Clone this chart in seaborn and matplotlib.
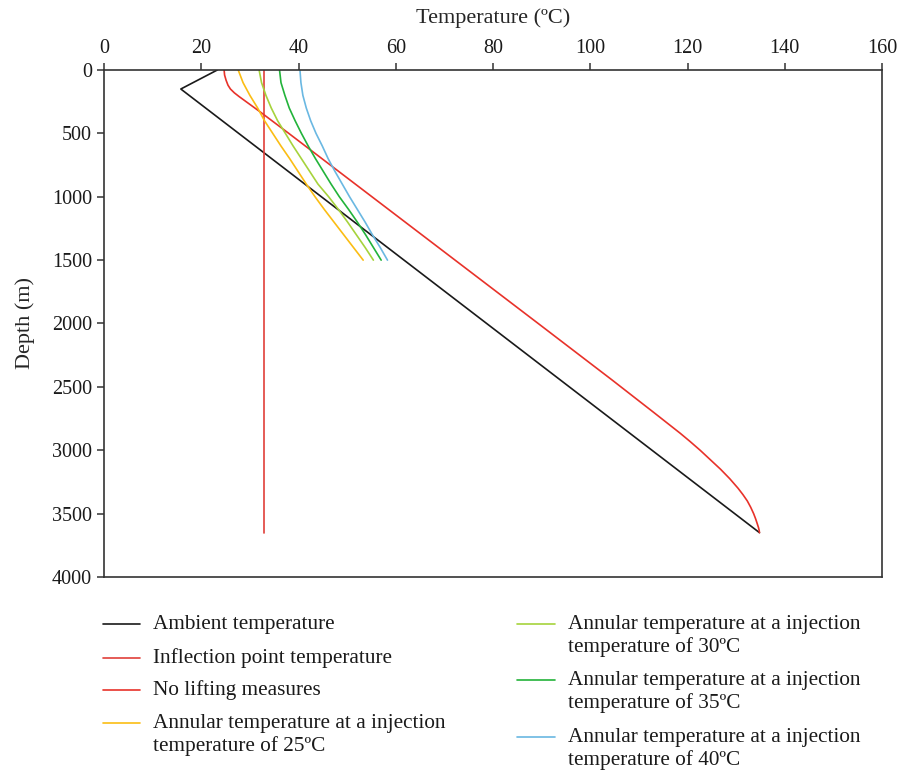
import matplotlib
matplotlib.use("Agg")
import matplotlib.pyplot as plt
from matplotlib.lines import Line2D
import seaborn as sns
import pandas as pd

# --- data ---
ambient_depth = [0, 150, 3650]
ambient_temp = [23.3, 15.8, 134.8]

inflection_depth = [0, 3650]
inflection_temp = [32.9, 32.9]

nolift_depth = [0, 40, 80, 120, 150, 180, 210, 330, 500, 1000, 1500, 2000, 2446, 2700, 2866, 2930,
                3000, 3075, 3150, 3225, 3300, 3350, 3400, 3450, 3500, 3540, 3580, 3610, 3635, 3650]
nolift_temp = [24.7, 24.8, 25.1, 25.5, 26.0, 26.8, 27.8, 32.1, 38.0, 55.1, 72.2, 89.3, 104.5, 113.0, 118.5, 120.5,
               122.6, 124.7, 126.8, 128.7, 130.4, 131.4, 132.3, 133.0, 133.6, 134.0, 134.35, 134.6, 134.75, 134.8]

annular_depth = [0, 100, 200, 300, 400, 500, 600, 700, 800, 900, 1000, 1100, 1200, 1300, 1400, 1500]
annular_25 = [27.6, 28.6, 30.0, 31.6, 33.0, 34.7, 36.4, 38.2, 39.9, 41.6, 43.4, 45.3, 47.3, 49.3, 51.3, 53.3]
annular_30 = [31.9, 32.4, 33.3, 34.4, 35.7, 37.3, 38.9, 40.6, 42.3, 44.0, 46.2, 48.2, 50.1, 51.9, 53.7, 55.4]
annular_35 = [36.1, 36.4, 37.2, 38.1, 39.3, 40.6, 42.0, 43.5, 45.1, 46.7, 48.4, 50.3, 52.1, 53.8, 55.4, 57.0]
annular_40 = [40.3, 40.5, 40.9, 41.6, 42.5, 43.6, 44.9, 46.1, 47.5, 49.0, 50.5, 52.1, 53.7, 55.2, 56.8, 58.3]

x_ticks = [0, 20, 40, 60, 80, 100, 120, 140, 160]
y_ticks = [0, 500, 1000, 1500, 2000, 2500, 3000, 3500, 4000]

series = [
    ("Ambient temperature", ambient_temp, ambient_depth, "#1a1a1a"),
    ("Inflection point temperature", inflection_temp, inflection_depth, "#e0403a"),
    ("No lifting measures", nolift_temp, nolift_depth, "#e8322a"),
    ("Annular temperature at a injection\ntemperature of 25ºC", annular_25, annular_depth, "#fbbd14"),
    ("Annular temperature at a injection\ntemperature of 30ºC", annular_30, annular_depth, "#a6d33c"),
    ("Annular temperature at a injection\ntemperature of 35ºC", annular_35, annular_depth, "#22b33a"),
    ("Annular temperature at a injection\ntemperature of 40ºC", annular_40, annular_depth, "#6ab8e2"),
]

sns.set_theme(style="ticks")
plt.rcParams["font.family"] = ["Liberation Serif", "DejaVu Serif"]
plt.rcParams["axes.edgecolor"] = "#333333"
plt.rcParams["axes.linewidth"] = 1.2

W, H = 900, 778
fig = plt.figure(figsize=(W / 100, H / 100), dpi=100)
ax = fig.add_axes([104 / W, 1 - 577 / H, 778 / W, 507 / H])

for label, temps, depths, color in series:
    df = pd.DataFrame({"temp": temps, "depth": depths})
    sns.lineplot(data=df, x="temp", y="depth", orient="y", sort=False,
                 color=color, linewidth=1.2, ax=ax, legend=False)

ax.set_xlim(0, 160)
ax.set_ylim(4000, 0)
ax.set_xticks(x_ticks)
ax.set_yticks(y_ticks)
ax.xaxis.tick_top()
ax.xaxis.set_label_position("top")
ax.tick_params(axis="both", direction="out", length=5, width=1.1, labelsize=14.5,
               color="#333333", labelcolor="#1a1a1a")
ax.set_xlabel("Temperature (ºC)", fontsize=16)
ax.set_ylabel("Depth (m)", fontsize=16)
ax.xaxis.set_label_coords(0.5, 1.093)
ax.yaxis.set_label_coords(-0.089, 0.5)

# legend laid out by hand: handle sits on the first line of each label
# (column x of handle start, handle end, text start; row y of first line, px)
legend_cols = [(103, 140, 153, [624, 658, 690, 723]),
               (517, 555, 568, [624, 680, 737])]
line_gap = 24
i = 0
for x0, x1, xt, rows in legend_cols:
    for y in rows:
        label, _, _, color = series[i]
        i += 1
        fig.add_artist(Line2D([x0 / W, x1 / W], [1 - y / H, 1 - y / H],
                              transform=fig.transFigure, color=color, linewidth=1.2))
        n = label.count("\n")
        yc = y + n * line_gap / 2
        fig.text(xt / W, 1 - yc / H, label, fontsize=15.3, va="center", ha="left",
                 linespacing=1.25, color="#1a1a1a")

plt.savefig("out.png", dpi=100)
